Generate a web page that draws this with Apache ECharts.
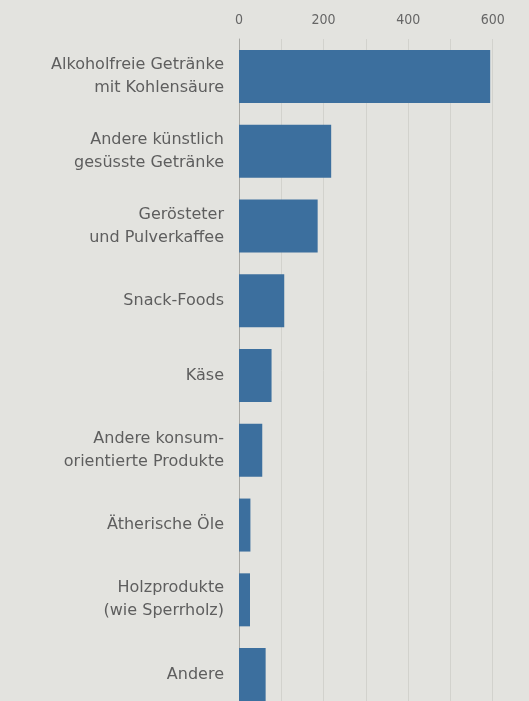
<!DOCTYPE html>
<html>
<head>
<meta charset="utf-8">
<script src="https://cdn.jsdelivr.net/npm/echarts@6/dist/echarts.min.js"></script>
<style>
html,body{margin:0;padding:0;background:#e3e3df;}
#c{width:529px;height:701px;}
</style>
</head>
<body>
<div id="c"></div>
<script>
const categories = [
  "Alkoholfreie Getränke\nmit Kohlensäure",
  "Andere künstlich\ngesüsste Getränke",
  "Gerösteter\nund Pulverkaffee",
  "Snack-Foods",
  "Käse",
  "Andere konsum-\norientierte Produkte",
  "Ätherische Öle",
  "Holzprodukte\n(wie Sperrholz)",
  "Andere"
];
const values = [594, 218, 186, 107, 77, 55, 27, 26, 63];
const tickLabels = ["0", "200", "400", "600"];

const chart = echarts.init(document.getElementById('c'), null, {renderer: 'canvas'});
chart.setOption({
  backgroundColor: '#e3e3df',
  animation: false,
  grid: {left: 239, right: -6, top: 39, bottom: -11, containLabel: false, outerBoundsMode: 'none'},
  xAxis: {
    type: 'value', position: 'top', min: 0, max: 700, interval: 100,
    axisLine: {show: false}, axisTick: {show: false},
    splitLine: {show: true, lineStyle: {color: '#d2d2cd', width: 1}},
    axisLabel: {
      color: '#666', fontFamily: 'DejaVu Sans Condensed', fontSize: 14, margin: 12,
      formatter: function (v) { return tickLabels.indexOf(String(v)) >= 0 ? String(v) : ''; }
    }
  },
  yAxis: {
    type: 'category', data: categories, inverse: true,
    axisLine: {show: true, lineStyle: {color: '#a8a8a4', width: 1}},
    axisTick: {show: false},
    axisLabel: {color: '#5e5e5e', fontFamily: 'DejaVu Sans', fontSize: 16, lineHeight: 23, margin: 15, align: 'right'}
  },
  series: [{
    type: 'bar', data: values, barWidth: 53,
    itemStyle: {color: '#3c6f9e'}
  }]
});
</script>
</body>
</html>
